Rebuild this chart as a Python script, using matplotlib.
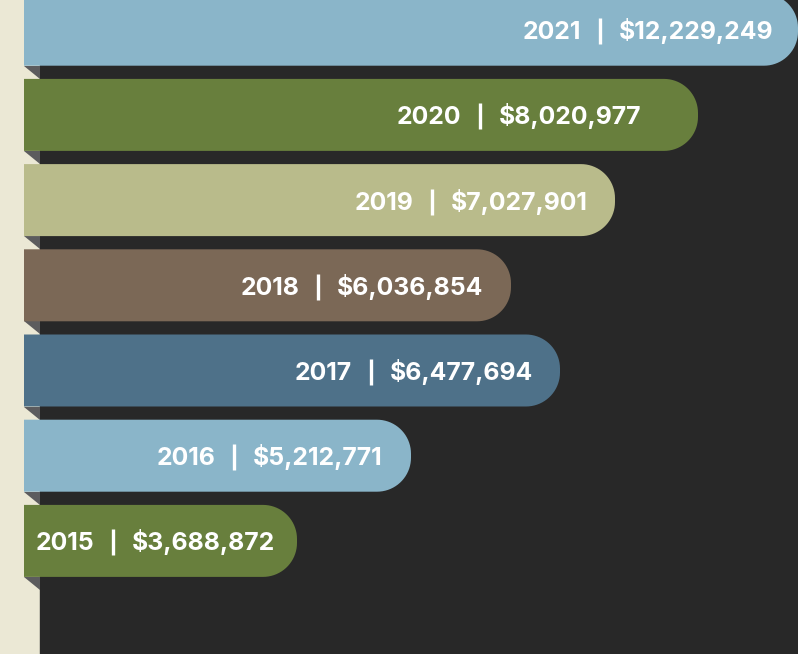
import matplotlib
matplotlib.use("Agg")
import matplotlib.pyplot as plt
import numpy as np
from matplotlib.patches import Polygon, Rectangle

years = [2021, 2020, 2019, 2018, 2017, 2016, 2015]
amounts = [12229249, 8020977, 7027901, 6036854, 6477694, 5212771, 3688872]
# bar lengths as drawn in the reference (not proportional to amounts)
bar_ends = [798, 698, 615, 511, 560, 411, 297]
label_right = [773, 641, 588, 483, 533, 383, 275]
colors = ["#8ab5c9", "#687f3d", "#b9bb8b", "#7b6856", "#4e7189", "#8ab5c9", "#687f3d"]

W, H = 798, 654
x0 = 24
top0 = -6.3
step = 85.2
bar_h = 72
r = 34

fig = plt.figure(figsize=(W / 100, H / 100), dpi=100)
ax = fig.add_axes([0, 0, 1, 1])
ax.set_xlim(0, W)
ax.set_ylim(H, 0)
ax.axis("off")

# background: beige strip + dark panel
ax.add_patch(Rectangle((0, 0), W, H, color="#ebe8d5", zorder=0))
ax.add_patch(Rectangle((40, 0), W - 40, H, color="#282828", zorder=1))


def pill(xa, xb, ya, h, rad):
    t = np.linspace(0, np.pi / 2, 20)
    pts = [(xa, ya), (xb - rad, ya)]
    # top-right corner
    cx, cy = xb - rad, ya + rad
    pts += list(zip(cx + rad * np.sin(t), cy - rad * np.cos(t)))
    # bottom-right corner
    cx, cy = xb - rad, ya + h - rad
    pts += list(zip(cx + rad * np.cos(t), cy + rad * np.sin(t)))
    pts += [(xa, ya + h)]
    return pts


fnt = dict(color="white", fontsize=17.8, fontweight="bold", family="Inter",
           va="baseline", zorder=4)

for i, (yr, amt, xe, lr, c) in enumerate(zip(years, amounts, bar_ends, label_right, colors)):
    ya = top0 + i * step
    base = ya + bar_h / 2 + 9.5
    ax.add_patch(Polygon(pill(x0, xe, ya, bar_h, r), closed=True, color=c, lw=0, zorder=3))
    yb = ya + bar_h
    ax.add_patch(Polygon([(x0, yb), (40, yb), (40, yb + 13)], closed=True,
                         color="#5c5c5e", lw=0, zorder=2))
    t = ax.text(lr, base, f"${amt:,}", ha="right", **fnt)
    fig.canvas.draw()
    bb = t.get_window_extent().transformed(ax.transData.inverted())
    xl = min(bb.x0, bb.x1)
    ax.plot([xl - 19, xl - 19], [base - 21, base + 5], color="white", lw=2.4,
            solid_capstyle="butt", zorder=4)
    ax.text(xl - 37.5, base, str(yr), ha="right", **fnt)

fig.savefig("out.png", dpi=100)
